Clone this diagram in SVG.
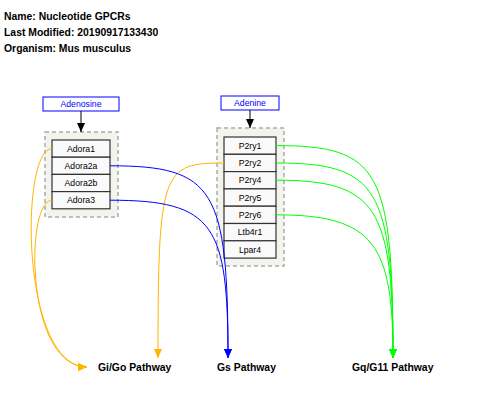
<svg xmlns="http://www.w3.org/2000/svg" width="480" height="402" viewBox="0 0 480 402">
<style>
.hdr{font-family:"Liberation Sans",Arial,sans-serif;font-size:10.4px;font-weight:bold;fill:#000}
.lbl{font-family:"Liberation Sans",Arial,sans-serif;font-size:10.4px;font-weight:bold;fill:#000}
.nt{font-family:"Liberation Sans",Arial,sans-serif;font-size:8.7px;fill:#000;text-anchor:middle}
.mt{font-family:"Liberation Sans",Arial,sans-serif;font-size:8.7px;fill:#0000ff;text-anchor:middle}
.grp{fill:#f4f4ee;stroke:#aaaaaa;stroke-width:1.5;stroke-dasharray:4,3}
.node{fill:#fafafa;stroke:#333;stroke-width:1.2}
.met{fill:#fff;stroke:#0000ff;stroke-width:1}
.c{fill:none;stroke-width:1}
</style>
<defs>
<marker id="ak" markerUnits="userSpaceOnUse" markerWidth="10" markerHeight="9" refX="9" refY="4" orient="auto"><path d="M0,0L9,4L0,8z" fill="#000"/></marker>
<marker id="ao" markerUnits="userSpaceOnUse" markerWidth="10" markerHeight="9" refX="9" refY="4" orient="auto"><path d="M0,0L9,4L0,8z" fill="#ffb400"/></marker>
<marker id="ab" markerUnits="userSpaceOnUse" markerWidth="10" markerHeight="9" refX="9" refY="4" orient="auto"><path d="M0,0L9,4L0,8z" fill="#0000ff"/></marker>
<marker id="ag" markerUnits="userSpaceOnUse" markerWidth="10" markerHeight="9" refX="9" refY="4" orient="auto"><path d="M0,0L9,4L0,8z" fill="#00ff00"/></marker>
</defs>
<g id="header">
<text class="hdr" x="4" y="19.5">Name: Nucleotide GPCRs</text>
<text class="hdr" x="4" y="35.5">Last Modified: 20190917133430</text>
<text class="hdr" x="4" y="51.5">Organism: Mus musculus</text>
</g>
<g id="group-adenosine"><rect class="grp" x="45" y="132" width="73" height="85"/></g>
<g id="group-adenine"><rect class="grp" x="217" y="128" width="67" height="138"/></g>
<g id="Adenosine"><rect class="met" x="43" y="97" width="76" height="14"/><text class="mt" x="81" y="107">Adenosine</text></g>
<g id="Adenine"><rect class="met" x="221" y="96" width="58" height="14"/><text class="mt" x="250" y="106">Adenine</text></g>
<g id="Adora1"><rect class="node" x="52" y="140" width="58" height="17.2"/><text class="nt" x="81" y="151.8">Adora1</text></g>
<g id="Adora2a"><rect class="node" x="52" y="157.2" width="58" height="17.2"/><text class="nt" x="81" y="169">Adora2a</text></g>
<g id="Adora2b"><rect class="node" x="52" y="174.4" width="58" height="17.2"/><text class="nt" x="81" y="186.2">Adora2b</text></g>
<g id="Adora3"><rect class="node" x="52" y="191.6" width="58" height="17.2"/><text class="nt" x="81" y="203.4">Adora3</text></g>
<g id="P2ry1"><rect class="node" x="224" y="137" width="52" height="17.3"/><text class="nt" x="250" y="148.8">P2ry1</text></g>
<g id="P2ry2"><rect class="node" x="224" y="154.3" width="52" height="17.3"/><text class="nt" x="250" y="166.1">P2ry2</text></g>
<g id="P2ry4"><rect class="node" x="224" y="171.6" width="52" height="17.3"/><text class="nt" x="250" y="183.4">P2ry4</text></g>
<g id="P2ry5"><rect class="node" x="224" y="188.9" width="52" height="17.3"/><text class="nt" x="250" y="200.7">P2ry5</text></g>
<g id="P2ry6"><rect class="node" x="224" y="206.2" width="52" height="17.3"/><text class="nt" x="250" y="218">P2ry6</text></g>
<g id="Ltb4r1"><rect class="node" x="224" y="223.5" width="52" height="17.3"/><text class="nt" x="250" y="235.3">Ltb4r1</text></g>
<g id="Lpar4"><rect class="node" x="224" y="240.8" width="52" height="17.3"/><text class="nt" x="250" y="252.6">Lpar4</text></g>
<g id="GiGo"><text class="lbl" x="98" y="370.5">Gi/Go Pathway</text></g>
<g id="Gs"><text class="lbl" x="217" y="370.5">Gs Pathway</text></g>
<g id="Gq"><text class="lbl" x="352" y="370.5">Gq/G11 Pathway</text></g>
<g id="connectors">
<path class="c" stroke="#000" d="M81,111L81,132" marker-end="url(#ak)"/>
<path class="c" stroke="#000" d="M250,110L250,128" marker-end="url(#ak)"/>
<path class="c" stroke="#ffb400" d="M52,148.6C20,148.6 20,367 87,367" marker-end="url(#ao)"/>
<path class="c" stroke="#ffb400" d="M52,200.2C25,200.2 25,367 87,367" marker-end="url(#ao)"/>
<path class="c" stroke="#ffb400" d="M224,163C162,163 158,170 158,358" marker-end="url(#ao)"/>
<path class="c" stroke="#0000ff" d="M110,165.8C215,165.8 228,189 228,358" marker-end="url(#ab)"/>
<path class="c" stroke="#0000ff" d="M110,200.2C215,200.2 228,225 228,358" marker-end="url(#ab)"/>
<path class="c" stroke="#00ff00" d="M276,145.6C380,145.6 393,170 393,358" marker-end="url(#ag)"/>
<path class="c" stroke="#00ff00" d="M276,163C378,163 393,188 393,358" marker-end="url(#ag)"/>
<path class="c" stroke="#00ff00" d="M276,180.2C377,180.2 393,207 393,358" marker-end="url(#ag)"/>
<path class="c" stroke="#00ff00" d="M276,214.8C375,214.8 393,245 393,358" marker-end="url(#ag)"/>
</g>
</svg>
